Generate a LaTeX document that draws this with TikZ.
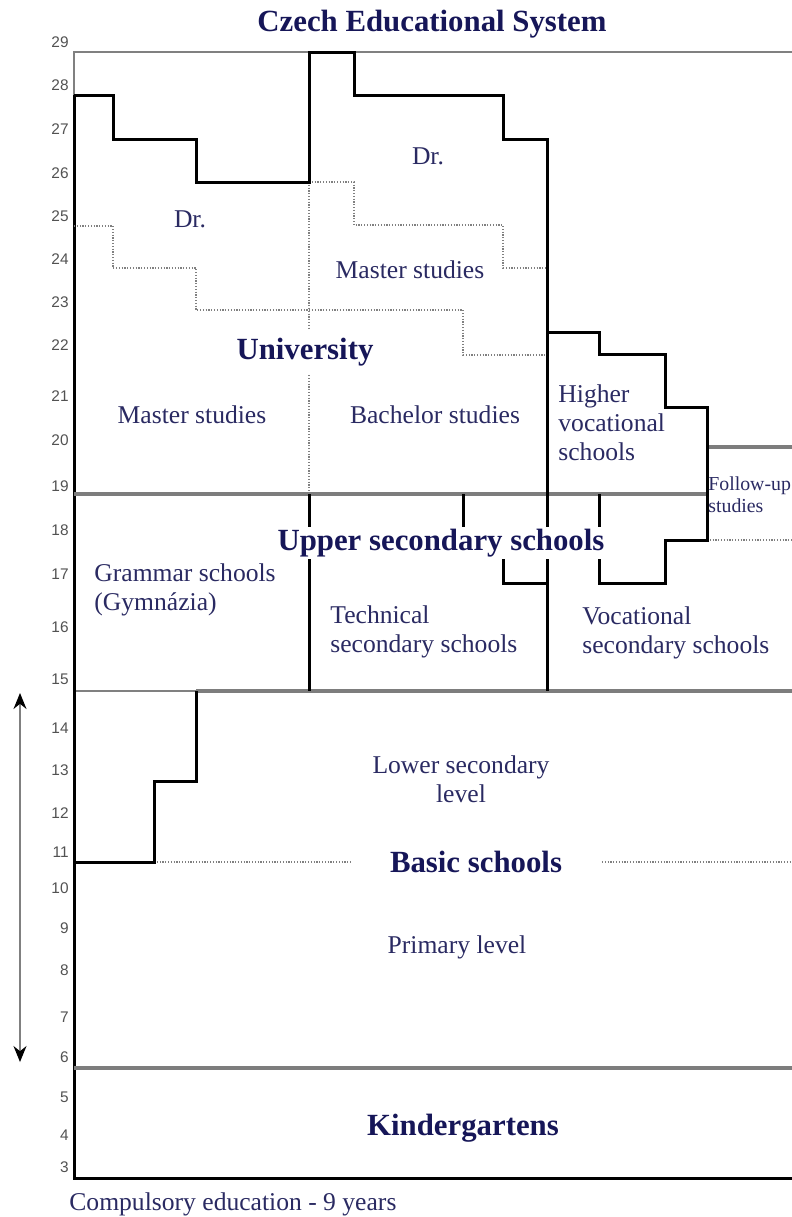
\documentclass[tikz,border=0pt]{standalone}
\usepackage{fontspec}
\setmainfont{Liberation Serif}
\newfontfamily\agefont{Liberation Sans}
\usepackage{tikz}
\usetikzlibrary{arrows.meta}
\usepackage{xcolor}
\definecolor{navyink}{RGB}{22,22,88}
\definecolor{bodyink}{RGB}{42,42,98}
\definecolor{bandgray}{RGB}{125,125,125}
\tikzset{
	stair/.style={line width=1.5pt, draw=black},
	tipend/.tip={Stealth[color=black, length=8pt, width=6.5pt]}
}
\tikzstyle{band}=[line width=2.3pt, draw=bandgray]
\tikzstyle{thinframe}=[line width=0.75pt, draw=gray]
\tikzstyle{dots}=[line width=0.75pt, draw=gray, dash pattern=on 0.6pt off 0.8pt]
\tikzstyle{bodytext}=[text=bodyink, font=\fontsize{12.8}{14.5}\selectfont, inner sep=0pt, align=left]
\tikzstyle{headtext}=[text=navyink, font=\fontsize{15.4}{18}\selectfont\bfseries, inner sep=1pt]
\tikzstyle{agetext}=[text=black!68, font=\agefont\fontsize{7.7}{8}\selectfont, inner sep=0pt, anchor=east]

\begin{document}
\begin{tikzpicture}[x=0.5pt, y=-0.5pt]
	\path[fill=white] (0,0) rectangle (792,1217);
	\useasboundingbox (0,0) rectangle (792,1217);
	% frame
	\draw[thinframe] (74,95) -- (74,52) -- (792,52);
	\draw[thinframe] (74,691) -- (196,691);
	\draw[stair] (74,95) -- (74,1178) -- (792,1178);
	% level boundaries
	\draw[band] (74,494) -- (707,494);
	\draw[band] (707,447) -- (792,447);
	\draw[band] (196,691) -- (792,691);
	\draw[band] (74,1068) -- (792,1068);
	% dotted splits
	\draw[dots] (74,226) -| (113,268) -| (196,310) -| (463,355) -- (547,355);
	\draw[dots] (309,182) -| (354,225) -| (503,268) -- (547,268);
	\draw[dots] (309,182) -- (309,494);
	\draw[dots] (707,540) -- (792,540);
	\draw[dots] (154,862) -- (792,862);
	% staircases
	\draw[stair] (74,95) -| (113,139) -| (196,182) -| (309,52) -| (354,95) -| (503,139)
		-| (547,332) -| (599,354) -| (665,407) -| (707,540) -| (665,583) -| (599,494);
	\draw[stair] (547,332) -- (547,691);
	\draw[stair] (309,494) -- (309,691);
	\draw[stair] (463,494) |- (503,540) |- (547,583);
	\draw[stair] (74,862) -| (154,781) -| (196,691);
	% ages
	\foreach \a/\y in {29/42, 28/85, 27/129, 26/173, 25/216, 24/259, 23/302, 22/345, 21/396,
		20/440, 19/486, 18/530, 17/574, 16/627, 15/679, 14/728, 13/770, 12/813, 11/852,
		10/888, 9/928, 8/970, 7/1017, 6/1057, 5/1097, 4/1135, 3/1167}
		\node[agetext] (age\a) at (69,\y) {\a};
	% compulsory span
	\coordinate (upTip) at (20,693);
	\coordinate (downTip) at (20,1062);
	\draw[gray, line width=0.8pt, tipend-tipend] (upTip) -- (downTip);
	% labels (multi-line ones sit on their last baseline)
	\node[headtext, anchor=base] (title) at (432,31) {Czech Educational System};
	\node[bodytext, anchor=base] (drLeft) at (190,227) {Dr.};
	\node[bodytext, anchor=base] (drRight) at (428,164) {Dr.};
	\node[bodytext, anchor=base] (masterUp) at (410,278) {Master studies};
	\node[headtext, anchor=base, fill=white, inner sep=4pt] (university) at (305,359) {University};
	\node[bodytext, anchor=base] (masterLeft) at (192,423) {Master studies};
	\node[bodytext, anchor=base] (bachelor) at (435,423) {Bachelor studies};
	\node[bodytext, anchor=base west] (higherVoc) at (558,460) {Higher\\vocational\\schools};
	\node[bodytext, anchor=base west, font=\fontsize{9.9}{11}\selectfont] (followUp) at (708,512) {Follow-up\\studies};
	\node[headtext, anchor=base, fill=white] (upperSec) at (441,550) {Upper secondary schools};
	\node[bodytext, anchor=base west] (grammar) at (94,610) {Grammar schools\\(Gymnázia)};
	\node[bodytext, anchor=base west] (technical) at (330,652) {Technical\\secondary schools};
	\node[bodytext, anchor=base west] (vocational) at (582,653) {Vocational\\secondary schools};
	\node[bodytext, anchor=base, align=center] (lowerSec) at (461,802) {Lower secondary\\level};
	\node[headtext, anchor=base, fill=white, inner xsep=19pt] (basic) at (476,872) {Basic schools};
	\node[bodytext, anchor=base] (primary) at (457,953) {Primary level};
	\node[headtext, anchor=base] (kinder) at (463,1135) {Kindergartens};
	\node[bodytext, anchor=base west] (compulsory) at (69,1210) {Compulsory education - 9 years};
\end{tikzpicture}
\end{document}
